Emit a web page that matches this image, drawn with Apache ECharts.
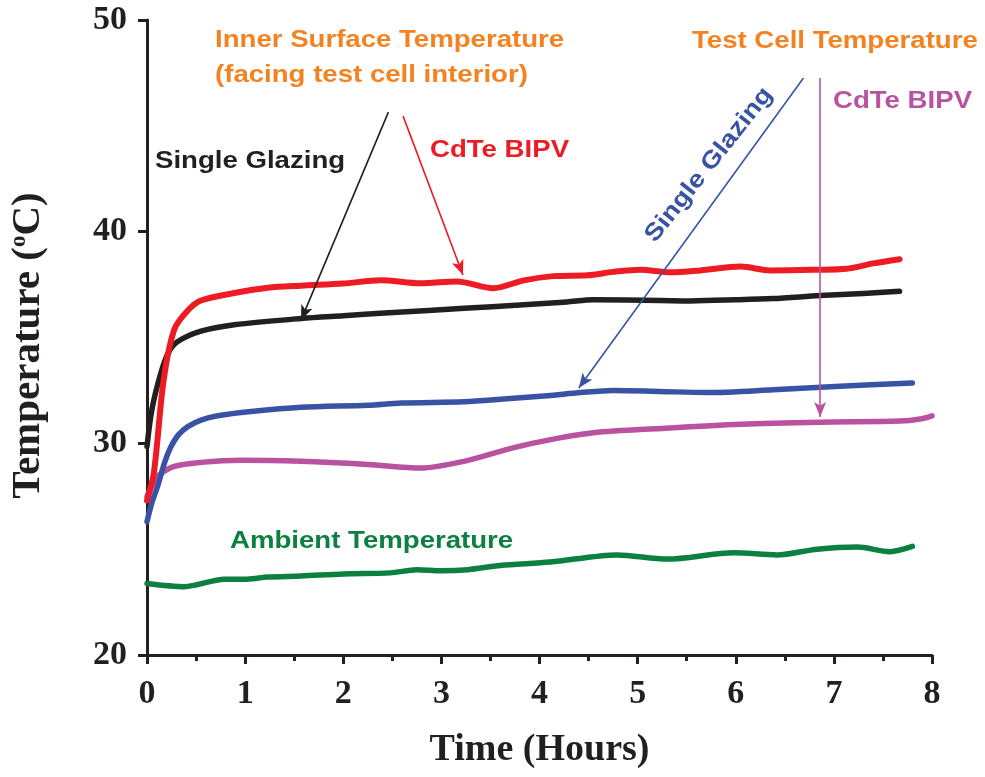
<!DOCTYPE html>
<html>
<head>
<meta charset="utf-8">
<script src="https://cdn.jsdelivr.net/npm/echarts@6/dist/echarts.min.js"></script>
<style>html,body{margin:0;padding:0;background:#fff;}#chart{width:985px;height:777px;}</style>
</head>
<body>
<div id="chart"></div>
<script>
// ---- Data (time in hours, temperature in °C) ----
const xTicks = [0, 1, 2, 3, 4, 5, 6, 7, 8];
const yTicks = [20, 30, 40, 50];

const timeCdTeInner = [0, 0.07, 0.17, 0.28, 0.42, 0.55, 0.89, 1.23, 1.57, 2.0, 2.38, 2.79, 3.16, 3.53, 3.84, 4.14, 4.49, 4.75, 5.03, 5.33, 5.64, 6.05, 6.35, 6.8, 7.13, 7.4, 7.67];
const tempCdTeInner = [27.3, 28.6, 33.0, 35.4, 36.3, 36.75, 37.1, 37.35, 37.45, 37.55, 37.7, 37.56, 37.65, 37.33, 37.7, 37.9, 37.94, 38.1, 38.2, 38.08, 38.17, 38.35, 38.17, 38.2, 38.25, 38.5, 38.7];

const timeGlazingInner = [0, 0.05, 0.14, 0.22, 0.31, 0.55, 0.89, 1.57, 2.0, 2.51, 3.23, 3.8, 4.28, 4.55, 5.23, 5.54, 6.0, 6.38, 6.86, 7.3, 7.67];
const tempGlazingInner = [29.85, 31.6, 33.3, 34.3, 34.8, 35.3, 35.6, 35.9, 36.03, 36.18, 36.38, 36.53, 36.68, 36.78, 36.75, 36.73, 36.78, 36.84, 36.98, 37.08, 37.18];

const timeGlazingCell = [0, 0.05, 0.11, 0.18, 0.24, 0.32, 0.42, 0.55, 0.72, 1.06, 1.57, 2.25, 2.59, 3.23, 3.6, 4.08, 4.42, 4.75, 5.23, 5.71, 6.38, 7.06, 7.8];
const tempGlazingCell = [26.3, 27.2, 28.0, 29.1, 29.8, 30.4, 30.8, 31.1, 31.3, 31.5, 31.7, 31.8, 31.9, 31.97, 32.08, 32.25, 32.4, 32.5, 32.45, 32.4, 32.53, 32.7, 32.85];

const timeCdTeCell = [0, 0.05, 0.11, 0.27, 0.55, 0.96, 1.57, 2.25, 2.79, 3.23, 3.74, 4.14, 4.55, 5.23, 6.05, 6.86, 7.67, 7.88, 8.0];
const tempCdTeCell = [27.5, 28.0, 28.45, 28.9, 29.1, 29.2, 29.15, 29.0, 28.83, 29.15, 29.8, 30.2, 30.5, 30.7, 30.9, 31.0, 31.05, 31.15, 31.3];

const timeAmbient = [0, 0.38, 0.79, 1.02, 1.23, 1.57, 2.0, 2.48, 2.75, 3.0, 3.27, 3.6, 4.11, 4.79, 5.3, 5.98, 6.42, 6.83, 7.24, 7.57, 7.8];
const tempAmbient = [23.38, 23.23, 23.58, 23.58, 23.68, 23.73, 23.83, 23.88, 24.03, 23.98, 24.03, 24.23, 24.39, 24.73, 24.53, 24.83, 24.73, 25.0, 25.1, 24.88, 25.13];

// annotation arrows: [startTime, startTemp, endTime, endTemp]
const arrowGlazingInner = [2.46, 45.65, 1.57, 35.82];
const arrowCdTeInner = [2.61, 45.46, 3.22, 37.95];
const arrowGlazingCell = [6.69, 47.26, 4.40, 32.61];
const arrowCdTeCell = [6.86, 47.26, 6.86, 31.24];

// ---- Chart ----
const zip = (xs, ys) => xs.map((x, i) => [x, ys[i]]);
const serifFont = '"Liberation Serif", "Times New Roman", serif';
const sansFont = '"Liberation Sans", Arial, sans-serif';

const C = {
  red: '#ED1C24', black: '#231F20', blue: '#3953A4',
  magenta: '#B9529F', green: '#0B8040', orange: '#F58220'
};

function arrow(a, color) {
  return {
    silent: true,
    symbol: ['none', 'arrow'],
    symbolSize: [9, 15],
    label: { show: false },
    lineStyle: { color: color, width: 1.6, type: 'solid' },
    emphasis: { disabled: true },
    animation: false,
    data: [[{ coord: [a[0], a[1]] }, { coord: [a[2], a[3]] }]]
  };
}

function lineSeries(name, xs, ys, color, width, arr) {
  const s = {
    name: name, type: 'line', data: zip(xs, ys),
    showSymbol: false, smooth: 0.3,
    lineStyle: { color: color, width: width, cap: 'round', join: 'round' },
    itemStyle: { color: color },
    z: 2
  };
  if (arr) s.markLine = arrow(arr, color);
  return s;
}

const annoText = (text, x, y, color, extra) => Object.assign({
  type: 'text', x: x, y: y, scaleX: 1.15, z: 10,
  style: {
    text: text, fill: color, fontFamily: sansFont, fontWeight: 'bold',
    fontSize: 24, align: 'left', verticalAlign: 'middle'
  }
}, extra || {});

const chart = echarts.init(document.getElementById('chart'), null, { renderer: 'canvas' });
chart.setOption({
  animation: false,
  backgroundColor: '#ffffff',
  grid: { left: 146, right: 53, top: 20, bottom: 122, containLabel: false },
  xAxis: {
    type: 'value', min: xTicks[0], max: xTicks[xTicks.length - 1], interval: 1,
    name: 'Time (Hours)', nameLocation: 'middle', nameGap: 76,
    nameTextStyle: { fontFamily: serifFont, fontWeight: 'bold', fontSize: 38, color: '#231F20' },
    axisLine: { show: true, onZero: false, lineStyle: { color: '#231F20', width: 3 } },
    axisTick: { show: true, length: 9, lineStyle: { color: '#231F20', width: 3 } },
    minorTick: { show: true, splitNumber: 2, length: 6, lineStyle: { color: '#231F20', width: 3 } },
    axisLabel: { fontFamily: serifFont, fontWeight: 'bold', fontSize: 34, color: '#231F20', margin: 22 },
    splitLine: { show: false }
  },
  yAxis: {
    type: 'value', min: yTicks[0], max: yTicks[yTicks.length - 1], interval: 10,
    name: 'Temperature ({sup|o}C)', nameLocation: 'middle', nameGap: 98,
    nameTextStyle: {
      fontFamily: serifFont, fontWeight: 'bold', fontSize: 41, color: '#231F20',
      padding: [0, 16, 0, 0],
      rich: { sup: { fontFamily: serifFont, fontWeight: 'bold', fontSize: 23, color: '#231F20', verticalAlign: 'top', lineHeight: 41 } }
    },
    axisLine: { show: true, onZero: false, lineStyle: { color: '#231F20', width: 3 } },
    axisTick: { show: true, length: 9, lineStyle: { color: '#231F20', width: 3 } },
    axisLabel: { fontFamily: serifFont, fontWeight: 'bold', fontSize: 34, color: '#231F20', margin: 20 },
    splitLine: { show: false }
  },
  series: [
    lineSeries('Ambient Temperature', timeAmbient, tempAmbient, C.green, 5.5),
    lineSeries('Test Cell CdTe BIPV', timeCdTeCell, tempCdTeCell, C.magenta, 5.5, arrowCdTeCell),
    lineSeries('Test Cell Single Glazing', timeGlazingCell, tempGlazingCell, C.blue, 5.5, arrowGlazingCell),
    lineSeries('Inner Surface Single Glazing', timeGlazingInner, tempGlazingInner, C.black, 5.5, arrowGlazingInner),
    lineSeries('Inner Surface CdTe BIPV', timeCdTeInner, tempCdTeInner, C.red, 6, arrowCdTeInner)
  ],
  graphic: [
    annoText('Inner Surface Temperature', 215, 40, C.orange),
    annoText('(facing test cell interior)', 215, 75, C.orange),
    annoText('Single Glazing', 155, 161, C.black),
    annoText('CdTe BIPV', 430, 150, C.red),
    annoText('Test Cell Temperature', 692, 41, C.orange),
    annoText('CdTe BIPV', 833, 101, C.magenta),
    annoText('Ambient Temperature', 230, 541, C.green),
    {
      type: 'text', x: 709, y: 165, rotation: 0.9, scaleX: 1.15, z: 10,
      style: { text: 'Single Glazing', fill: C.blue, fontFamily: sansFont, fontWeight: 'bold', fontSize: 24, align: 'center', verticalAlign: 'middle' }
    }
  ]
});
</script>
</body>
</html>
